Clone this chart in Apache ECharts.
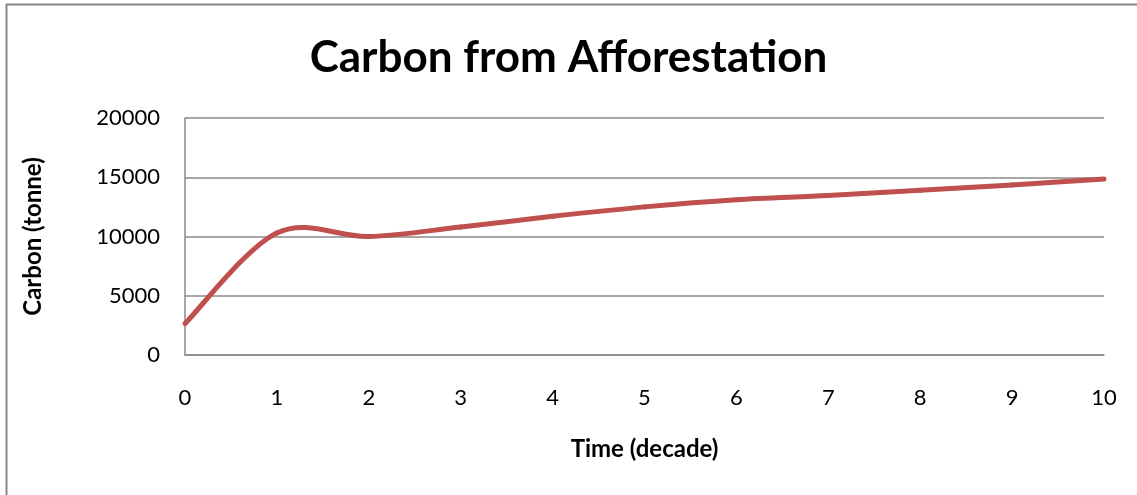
<!DOCTYPE html>
<html>
<head>
<meta charset="utf-8">
<script src="https://cdn.jsdelivr.net/npm/echarts@6/dist/echarts.min.js"></script>
<style>
  html, body { margin: 0; padding: 0; background: #fff; }
  #chart { width: 1137px; height: 495px; }
</style>
</head>
<body>
<div id="chart"></div>
<script>
// Time in decades and stored carbon in tonnes
const decades = [0, 1, 2, 3, 4, 5, 6, 7, 8, 9, 10];
const carbonTonnes = [2650, 10300, 10000, 10800, 11700, 12500, 13100, 13450, 13900, 14350, 14850];
const yTicks = { min: 0, max: 20000, interval: 5000 };
const xTicks = { min: 0, max: 10, interval: 1 };

const FONT = 'Lato, "Open Sans", sans-serif';
const GRID_GRAY = '#8a8a8a';
const LINE_RED = '#C0504D';

const chart = echarts.init(document.getElementById('chart'), null, { renderer: 'canvas' });

// Smoothed line: each segment is a cubic Bezier whose control points follow
// the neighbouring points (Catmull-Rom style), computed in pixel space.
function renderSmoothSegment(params, api) {
  const i = params.dataIndex;
  if (i === 0) return null;
  const n = decades.length;
  const pt = k => {
    const j = Math.max(0, Math.min(n - 1, k));
    return api.coord([decades[j], carbonTonnes[j]]);
  };
  const p0 = pt(i - 2), p1 = pt(i - 1), p2 = pt(i), p3 = pt(i + 1);
  return {
    type: 'bezierCurve',
    shape: {
      x1: p1[0], y1: p1[1],
      x2: p2[0], y2: p2[1],
      cpx1: p1[0] + (p2[0] - p0[0]) / 6, cpy1: p1[1] + (p2[1] - p0[1]) / 6,
      cpx2: p2[0] - (p3[0] - p1[0]) / 6, cpy2: p2[1] - (p3[1] - p1[1]) / 6
    },
    style: { stroke: LINE_RED, lineWidth: 5, fill: null, lineCap: 'round' }
  };
}

chart.setOption({
  backgroundColor: '#fff',
  animation: false,
  title: {
    text: 'Carbon from Afforestation',
    left: 'center',
    top: 31,
    textStyle: { fontFamily: FONT, fontWeight: 'bold', fontSize: 44, color: '#000' }
  },
  grid: { left: 185, right: 33, top: 118, bottom: 140, containLabel: false },
  xAxis: {
    type: 'value',
    min: xTicks.min, max: xTicks.max, interval: xTicks.interval,
    name: 'Time (decade)',
    nameLocation: 'middle',
    nameGap: 82,
    nameTextStyle: { fontFamily: FONT, fontWeight: 'bold', fontSize: 24, color: '#000' },
    axisLine: { show: true, lineStyle: { color: GRID_GRAY, width: 1.5 } },
    axisTick: { show: false },
    splitLine: { show: false },
    axisLabel: { fontFamily: FONT, fontSize: 22, color: '#000', margin: 32 }
  },
  yAxis: {
    type: 'value',
    min: yTicks.min, max: yTicks.max, interval: yTicks.interval,
    name: 'Carbon (tonne)',
    nameLocation: 'middle',
    nameGap: 140,
    nameRotate: 90,
    nameTextStyle: { fontFamily: FONT, fontWeight: 'bold', fontSize: 24, color: '#000' },
    axisLine: { show: true, lineStyle: { color: GRID_GRAY, width: 1.5 } },
    axisTick: { show: false },
    splitLine: { show: true, lineStyle: { color: GRID_GRAY, width: 1.5 } },
    axisLabel: { fontFamily: FONT, fontSize: 22, color: '#000', margin: 25, formatter: v => String(v) }
  },
  series: [{
    type: 'custom',
    renderItem: renderSmoothSegment,
    data: decades.map((d, i) => [d, carbonTonnes[i]]),
    encode: { x: 0, y: 1 },
    clip: false
  }],
  graphic: [
    { type: 'line', shape: { x1: 6, y1: 4.5, x2: 1137, y2: 4.5 }, style: { stroke: '#888', lineWidth: 2 } },
    { type: 'line', shape: { x1: 6.5, y1: 4, x2: 6.5, y2: 495 }, style: { stroke: '#888', lineWidth: 2 } }
  ]
});
</script>
</body>
</html>
